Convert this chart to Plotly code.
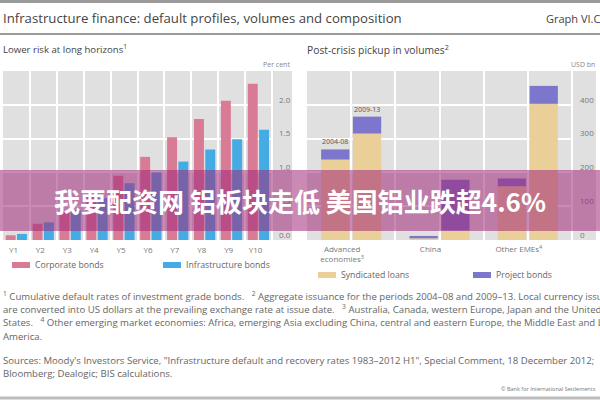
import plotly.graph_objects as go

# ---------------- data ----------------
years = ["Y1", "Y2", "Y3", "Y4", "Y5", "Y6", "Y7", "Y8", "Y9", "Y10"]
corporate_bonds = [0.07, 0.24, 0.42, 0.64, 0.95, 1.23, 1.52, 1.79, 2.06, 2.31]
infrastructure_bonds = [0.09, 0.26, 0.44, 0.62, 0.84, 1.00, 1.16, 1.34, 1.49, 1.63]
left_ticks = [0.0, 0.5, 1.0, 1.5, 2.0]

regions = ["Advanced<br>economies<sup>3</sup>", "China", "Other EMEs<sup>4</sup>"]
periods = ["2004-08", "2009-13"]
syndicated_0408 = [238, 5, 159]
project_0408 = [30, 7, 23]
syndicated_0913 = [315, 28, 403]
project_0913 = [50, 150, 53]
right_ticks = [0, 100, 200, 300, 400]

PINK = "#d97b94"
BLUE = "#45abe4"
TAN = "#ebcf98"
PURPLE = "#7c76cc"
BG = "#e0e0e0"
TXT = "#555555"
FONT = "Open Sans"

W, H = 600, 400
def px(x):
    return x / W
def py(y):
    return 1 - y / H

fig = go.Figure()

# ---------------- left panel ----------------
fig.add_trace(go.Bar(x=years, y=corporate_bonds, name="Corporate bonds",
                     marker=dict(color=PINK, line=dict(width=0)),
                     offset=-0.40, width=0.37, xaxis="x", yaxis="y", showlegend=False))
fig.add_trace(go.Bar(x=years, y=infrastructure_bonds, name="Infrastructure bonds",
                     marker=dict(color=BLUE, line=dict(width=0)),
                     offset=0.02, width=0.37, xaxis="x", yaxis="y", showlegend=False))

# ---------------- right panel ----------------
group_centers = [1 + 2 * i for i in range(len(regions))]
half = 0.36
x0408 = [c - half for c in group_centers]
x0913 = [c + half for c in group_centers]
bw = 0.64
fig.add_trace(go.Bar(x=x0408, y=syndicated_0408, name="Syndicated loans", width=bw,
                     marker=dict(color=TAN, line=dict(width=0)), xaxis="x2", yaxis="y2", showlegend=False))
fig.add_trace(go.Bar(x=x0408, y=project_0408, base=syndicated_0408, name="Project bonds", width=bw,
                     marker=dict(color=PURPLE, line=dict(width=0)), xaxis="x2", yaxis="y2", showlegend=False))
fig.add_trace(go.Bar(x=x0913, y=syndicated_0913, name="Syndicated loans", width=bw,
                     marker=dict(color=TAN, line=dict(width=0)), xaxis="x2", yaxis="y2", showlegend=False))
fig.add_trace(go.Bar(x=x0913, y=project_0913, base=syndicated_0913, name="Project bonds", width=bw,
                     marker=dict(color=PURPLE, line=dict(width=0)), xaxis="x2", yaxis="y2", showlegend=False))

tickfont = dict(family=FONT, size=8, color="#777777")

fig.update_layout(
    width=W, height=H, margin=dict(l=0, r=0, t=0, b=0),
    paper_bgcolor="white", plot_bgcolor="rgba(0,0,0,0)",
    barmode="overlay",
    xaxis=dict(domain=[px(3), px(272)], type="category", tickson="boundaries",
               showgrid=True, gridcolor="white", gridwidth=2, ticks="",
               showline=False, zeroline=False, tickfont=tickfont, ticklabelshift=-3,
               ticklabelstandoff=4, range=[-0.5, 9.5], anchor="y"),
    yaxis=dict(domain=[py(240), py(71)], side="right", range=[0, 2.5],
               tickvals=left_ticks, ticktext=[f"{v:.1f}" for v in left_ticks],
               showgrid=True, gridcolor="white", gridwidth=2, zeroline=False,
               ticks="", tickfont=tickfont, ticklabelshift=-5, ticklabelstandoff=6,
               anchor="x"),
    xaxis2=dict(domain=[px(307), px(572)], range=[0, 6], tickvals=group_centers,
                ticktext=regions, showgrid=False, ticks="", zeroline=False,
                minor=dict(dtick=1, tick0=0, showgrid=True, gridcolor="white", gridwidth=2, ticks=""),
                tickfont=tickfont, ticklabelshift=-9, ticklabelstandoff=3, anchor="y2"),
    yaxis2=dict(domain=[py(240), py(71)], side="right", range=[0, 500],
                tickvals=right_ticks, showgrid=True, gridcolor="white", gridwidth=2,
                zeroline=False, ticks="", tickfont=tickfont, ticklabelshift=-5,
                ticklabelstandoff=7, anchor="x2"),
)

shapes = []
# panel backgrounds (including label column)
shapes.append(dict(type="rect", xref="paper", yref="paper", x0=px(3), x1=px(292),
                   y0=py(240), y1=py(71), fillcolor=BG, line=dict(width=0), layer="below"))
shapes.append(dict(type="rect", xref="paper", yref="paper", x0=px(307), x1=px(596),
                   y0=py(240), y1=py(71), fillcolor=BG, line=dict(width=0), layer="below"))
for xx in (272, 572):
    shapes.append(dict(type="line", xref="paper", yref="paper", x0=px(xx), x1=px(xx),
                       y0=py(240), y1=py(71), line=dict(color="white", width=2), layer="below"))
# rules
shapes.append(dict(type="line", xref="paper", yref="paper", x0=0, x1=1, y0=py(1.5), y1=py(1.5),
                   line=dict(color="#9a9a9a", width=3)))
shapes.append(dict(type="line", xref="paper", yref="paper", x0=0, x1=1, y0=py(34), y1=py(34),
                   line=dict(color="#9a9a9a", width=2)))
shapes.append(dict(type="line", xref="paper", yref="paper", x0=0, x1=1, y0=py(398), y1=py(398),
                   line=dict(color="#bdbdbd", width=3)))

annotations = []
def txt(x, y, text, size=8, color=TXT, xanchor="left", yanchor="middle", family=FONT, **kw):
    annotations.append(dict(xref="paper", yref="paper", x=px(x), y=py(y), text=text,
                            showarrow=False, xanchor=xanchor, yanchor=yanchor,
                            font=dict(family=family, size=size, color=color), **kw))

txt(1, 18, "Infrastructure finance: default profiles, volumes and composition", size=13.2, color="#444444")
txt(544, 18, "Graph VI.C", size=11, color="#444444")
txt(1, 49, "Lower risk at long horizons<sup>1</sup>", size=9.6, color="#444444")
txt(305, 49, "Post-crisis pickup in volumes<sup>2</sup>", size=10.3, color="#444444")
txt(292, 65, "Per cent", size=7, color="#888888", xanchor="right")
txt(597, 65, "USD bn", size=7, color="#888888", xanchor="right")

# period labels above advanced-economy bars
annotations.append(dict(xref="x2", yref="y2", x=x0408[0], y=syndicated_0408[0] + project_0408[0],
                        text=periods[0], showarrow=False, yanchor="bottom", yshift=1,
                        font=dict(family=FONT, size=7, color="#555555")))
annotations.append(dict(xref="x2", yref="y2", x=x0913[0], y=syndicated_0913[0] + project_0913[0],
                        text=periods[1], showarrow=False, yanchor="bottom", yshift=1,
                        font=dict(family=FONT, size=7, color="#555555")))

# legends
legend_items = [
    (12, 265, PINK, "Corporate bonds"),
    (163, 265, BLUE, "Infrastructure bonds"),
    (318, 275, TAN, "Syndicated loans"),
    (473, 275, PURPLE, "Project bonds"),
]
for (lx, ly, col, name) in legend_items:
    shapes.append(dict(type="rect", xref="paper", yref="paper", x0=px(lx), x1=px(lx + 18),
                       y0=py(ly + 3), y1=py(ly - 3), fillcolor=col, line=dict(width=0)))
    txt(lx + 21, ly, name, size=8.7, color="#666666")

# footnotes
foot = [
    (296, "<sup>1</sup> Cumulative default rates of investment grade bonds.   <sup>2</sup> Aggregate issuance for the periods 2004–08 and 2009–13. Local currency issues"),
    (309, "are converted into US dollars at the prevailing exchange rate at issue date.   <sup>3</sup> Australia, Canada, western Europe, Japan and the United"),
    (322, "States.   <sup>4</sup> Other emerging market economies: Africa, emerging Asia excluding China, central and eastern Europe, the Middle East and Latin"),
    (336, "America."),
    (360, "Sources: Moody's Investors Service, \"Infrastructure default and recovery rates 1983–2012 H1\", Special Comment, 18 December 2012;"),
    (373, "Bloomberg; Dealogic; BIS calculations."),
]
for (fy, ft) in foot:
    txt(1, fy, ft, size=9.6, color="#666666")
txt(598, 389, "© Bank for International Settlements", size=5.5, color="#777777", xanchor="right")

# overlay banner
shapes.append(dict(type="rect", xref="paper", yref="paper", x0=0, x1=1, y0=py(231), y1=py(170),
                   fillcolor="rgba(160,40,120,0.55)", line=dict(width=0), layer="above"))
txt(300, 201, "<b>我要配资网 铝板块走低 美国铝业跌超4.6%</b>", size=26, color="white",
    xanchor="center", family="Noto Sans CJK SC")

fig.update_layout(shapes=shapes, annotations=annotations)
post = ("var s=document.body.style;s.margin='0';s.padding='0';s.height='400px';s.width='600px';"
        "s.overflow='hidden';s.lineHeight='0';s.fontSize='0';"
        "document.documentElement.style.overflow='hidden';document.documentElement.style.height='400px';")
fig.write_html("out.html", config={"displayModeBar": False}, post_script=post)
